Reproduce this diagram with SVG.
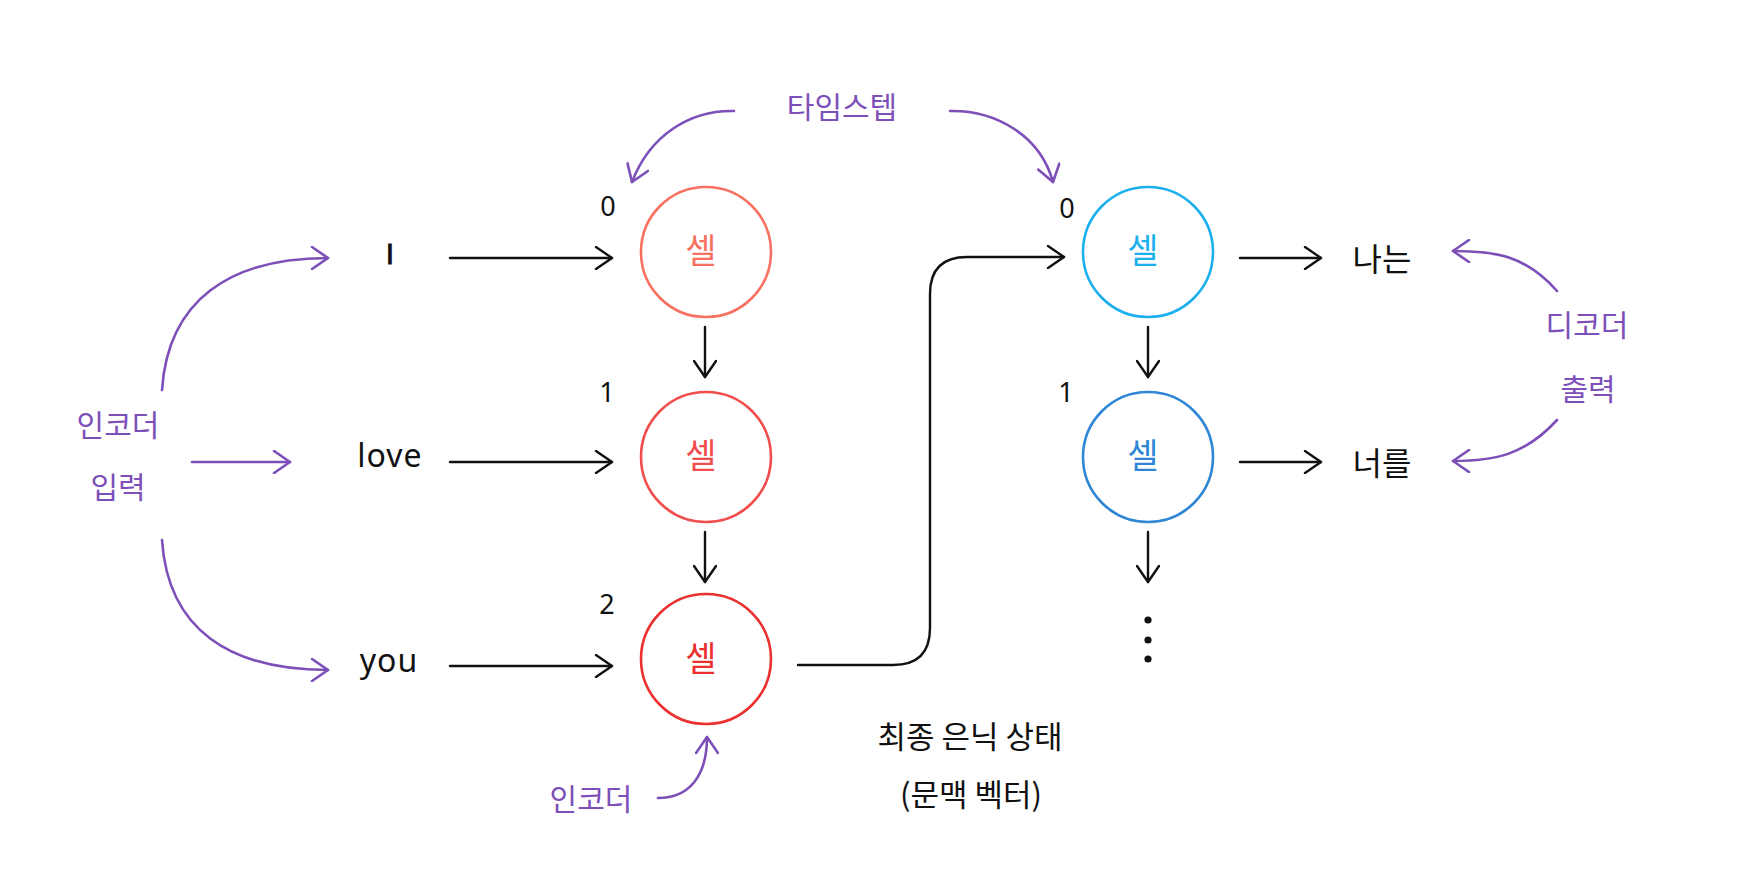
<svg xmlns="http://www.w3.org/2000/svg" width="1738" height="892" viewBox="0 0 1738 892">
<style>
.ko{font-family:"Noto Sans CJK KR","Noto Sans",sans-serif;text-anchor:middle}
.en{font-family:"Noto Sans","Liberation Sans",sans-serif;text-anchor:middle;fill:#111}
.ls{font-family:"Liberation Sans",Arial,sans-serif}
.pl{fill:#7d4fb8;font-size:30px}
.blk{fill:#111}
.cell{fill:#fff;stroke-width:2.6}
.ln{fill:none;stroke:#111;stroke-width:2.4;stroke-linecap:round}
.pu{fill:none;stroke:#7d4fb8;stroke-width:2.6;stroke-linecap:round}
</style>
<defs>
<marker id="ab" viewBox="0 0 20 24" refX="18" refY="12" markerWidth="20" markerHeight="24" markerUnits="userSpaceOnUse" orient="auto">
<path d="M2,1 L18,12 L2,23" fill="none" stroke="#111" stroke-width="2.4" stroke-linecap="round" stroke-linejoin="round"/>
</marker>
<marker id="ap" viewBox="0 0 20 24" refX="18" refY="12" markerWidth="20" markerHeight="24" markerUnits="userSpaceOnUse" orient="auto">
<path d="M2,1 L18,12 L2,23" fill="none" stroke="#7d4fb8" stroke-width="2.6" stroke-linecap="round" stroke-linejoin="round"/>
</marker>
</defs>
<rect width="1738" height="892" fill="#fff"/>

<g id="connectors">
<path class="ln" d="M450 258 L612 258" marker-end="url(#ab)"/>
<path class="ln" d="M450 462 L612 462" marker-end="url(#ab)"/>
<path class="ln" d="M450 666 L612 666" marker-end="url(#ab)"/>
<path class="ln" d="M705 327 L705 377" marker-end="url(#ab)"/>
<path class="ln" d="M705 532 L705 582" marker-end="url(#ab)"/>
<path class="ln" d="M798 665 H893 Q930 665 930 628 V294 Q930 257 967 257 H1064" marker-end="url(#ab)"/>
<path class="ln" d="M1148 327 L1148 377" marker-end="url(#ab)"/>
<path class="ln" d="M1148 532 L1148 582" marker-end="url(#ab)"/>
<path class="ln" d="M1240 258 L1321 258" marker-end="url(#ab)"/>
<path class="ln" d="M1240 462 L1321 462" marker-end="url(#ab)"/>
<path class="pu" d="M734 111 C690 110 650 135 632 182" marker-end="url(#ap)"/>
<path class="pu" d="M950 111 C995 110 1040 135 1053 182" marker-end="url(#ap)"/>
<path class="pu" d="M162 390 C168 300 230 258 328 258" marker-end="url(#ap)"/>
<path class="pu" d="M192 462 L290 462" marker-end="url(#ap)"/>
<path class="pu" d="M162 540 C168 630 230 670 328 670" marker-end="url(#ap)"/>
<path class="pu" d="M658 798 C690 798 707 775 707 737" marker-end="url(#ap)"/>
<path class="pu" d="M1557 291 C1525 255 1495 251 1453 251" marker-end="url(#ap)"/>
<path class="pu" d="M1557 420 C1525 455 1495 461 1453 461" marker-end="url(#ap)"/>
</g>

<g id="enc0"><circle class="cell" cx="706" cy="252" r="65" stroke="#f87160"/><text class="ko" x="701" y="263" font-size="34" fill="#f87160">셀</text></g>
<g id="enc1"><circle class="cell" cx="706" cy="457" r="65" stroke="#f24d4d"/><text class="ko" x="701" y="468" font-size="34" fill="#f24d4d">셀</text></g>
<g id="enc2"><circle class="cell" cx="706" cy="659" r="65" stroke="#ec2f2f"/><text class="ko" x="701" y="671" font-size="34" fill="#ec2f2f">셀</text></g>
<g id="dec0"><circle class="cell" cx="1148" cy="252" r="65" stroke="#1cb0ee"/><text class="ko" x="1143" y="263" font-size="34" fill="#1cb0ee">셀</text></g>
<g id="dec1"><circle class="cell" cx="1148" cy="457" r="65" stroke="#2f86d6"/><text class="ko" x="1143" y="468" font-size="34" fill="#2f86d6">셀</text></g>

<g id="dots" fill="#111"><circle cx="1148" cy="620" r="3.6"/><circle cx="1148" cy="640" r="3.6"/><circle cx="1148" cy="659" r="3.6"/></g>

<g id="timesteps">
<text class="en" x="608" y="216" font-size="27">0</text>
<text class="en" x="607" y="402" font-size="27">1</text>
<text class="en" x="607" y="614" font-size="27">2</text>
<text class="en" x="1067" y="218" font-size="27">0</text>
<text class="en" x="1066" y="402" font-size="27">1</text>
</g>

<g id="inputs">
<text class="en ls" x="390" y="264" font-size="30" stroke="#111" stroke-width="0.8">I</text>
<text class="en" x="390" y="467" font-size="32" letter-spacing="1">love</text>
<text class="en" x="389" y="672" font-size="32" letter-spacing="1">you</text>
</g>

<g id="outputs">
<text class="ko blk" x="1382" y="271" font-size="32">나는</text>
<text class="ko blk" x="1382" y="475" font-size="32">너를</text>
</g>

<g id="labels">
<text class="ko pl" x="842" y="118" font-size="33">타임스텝</text>
<text class="ko pl" x="118" y="436">인코더</text>
<text class="ko pl" x="118" y="498">입력</text>
<text class="ko pl" x="591" y="810">인코더</text>
<text class="ko pl" x="1587" y="336">디코더</text>
<text class="ko pl" x="1588" y="400">출력</text>
<text class="ko blk" x="970" y="748" font-size="31">최종 은닉 상태</text>
<text class="ko blk" x="971" y="806" font-size="31">(문맥 벡터)</text>
</g>
</svg>
